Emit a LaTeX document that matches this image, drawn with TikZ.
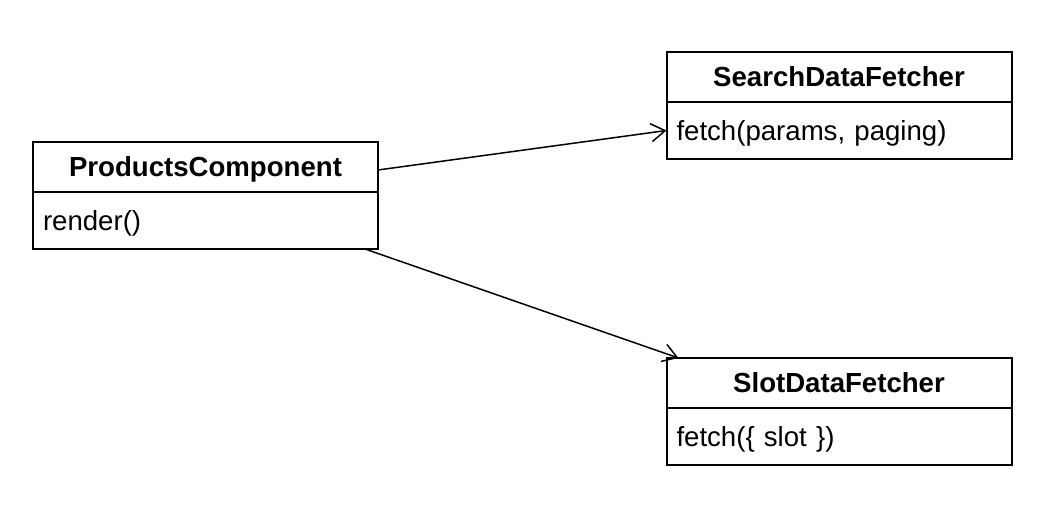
\documentclass[tikz,border=0pt]{standalone}
\usepackage{fontspec}
\setmainfont{Liberation Sans}
\usetikzlibrary{positioning,arrows.meta}
\begin{document}
\begin{tikzpicture}[x=0.5pt, y=-0.5pt, line width=1pt,
    head/.style = {draw, rectangle, outer sep=0pt, minimum width=172.5pt, minimum height=25pt, text depth=0pt, font=\fontsize{13.8}{16}\selectfont\bfseries},
    body/.style = {draw, rectangle, outer sep=0pt, text width=162.5pt, inner xsep=5pt, minimum height=28.5pt, text depth=0pt, align=left, font=\fontsize{13.8}{16}\selectfont},
    uses/.style = {-{Straight Barb[length=7pt,width=9pt]}, line width=0.75pt}]
      \useasboundingbox (0,0) rectangle (1062,508);
      \node[head] (pchead) at (205.5,167) {ProductsComponent};
      \node[body] (pcbody) [below=0pt of pchead] {render()};
      \node[head] (searchhead) at (839,77) {SearchDataFetcher};
      \node[body] (searchbody) [below=0pt of searchhead] {fetch(params, paging)};
      \node[head] (slothead) at (839,383) {SlotDataFetcher};
      \node[body] (slotbody) [below=0pt of slothead] {fetch(\{ slot \})};
      \draw[uses] ([yshift=-1.5pt]pchead.east) -- (searchbody.west);
      \draw[uses] ([xshift=-6.5pt]pcbody.south east) -- ([xshift=6pt]slothead.north west);
    \end{tikzpicture}
\end{document}
